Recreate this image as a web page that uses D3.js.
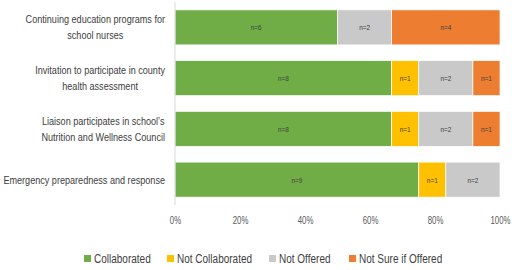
<!DOCTYPE html>
<html>
<head>
<meta charset="utf-8">
<script src="https://cdn.jsdelivr.net/npm/d3@7"></script>
<style>
  body { margin: 0; background: #fff; }
  svg text { font-family: "Liberation Sans", Arial, sans-serif; }
</style>
</head>
<body>
<svg width="515" height="270"></svg>
<script>
var categories = [
    ["Continuing education programs for", "school nurses"],
    ["Invitation to participate in county", "health assessment"],
    ["Liaison participates in school\u2019s", "Nutrition and Wellness Council"],
    ["Emergency preparedness and response"]
];
var seriesNames = ["Collaborated", "Not Collaborated", "Not Offered", "Not Sure if Offered"];
var collaborated = [6, 8, 8, 9];
var notCollaborated = [0, 1, 1, 1];
var notOffered = [2, 2, 2, 2];
var notSure = [4, 1, 1, 0];
var tickValues = [0, 0.2, 0.4, 0.6, 0.8, 1];
var colors = ["#70AD47", "#FFC000", "#C9C9C9", "#ED7D31"];

var svg = d3.select("svg");
var marge = { top: 2, left: 175, right: 15 };
var plotW = 500 - marge.left;
var plotH = 205 - marge.top;

// squeeze text horizontally, the original font is a narrow one (Calibri)
function condense(sel, k) {
    sel.each(function () {
        var w = this.getComputedTextLength();
        d3.select(this).attr("textLength", w * k).attr("lengthAdjust", "spacingAndGlyphs");
    });
}

var rows = categories.map(function (c, i) {
    var vals = [collaborated[i], notCollaborated[i], notOffered[i], notSure[i]];
    var total = d3.sum(vals);
    var acc = 0;
    var segs = vals.map(function (v, k) {
        var s = { key: k, n: v, row: i, x0: acc / total, x1: (acc + v) / total };
        acc += v;
        return s;
    });
    return { idx: i, lines: c, segs: segs };
});

var x = d3.scaleLinear().domain([0, 1]).range([marge.left, marge.left + plotW]);
var y = d3.scaleBand().domain(d3.range(categories.length)).range([marge.top, marge.top + plotH]).paddingInner(0.31).paddingOuter(0.155);

// bars
var g = svg.append("g");
var rowG = g.selectAll("g.row").data(rows).enter().append("g").attr("class", "row");
rowG.selectAll("rect")
    .data(function (d) { return d.segs.filter(function (s) { return s.n > 0; }); })
    .enter().append("rect")
    .attr("x", function (s) { return x(s.x0); })
    .attr("y", function (s) { return y(s.row); })
    .attr("width", function (s) { return x(s.x1) - x(s.x0); })
    .attr("height", y.bandwidth())
    .attr("fill", function (s) { return colors[s.key]; })
    .attr("stroke", "#fff")
    .attr("stroke-width", 0.7);

var vals = rowG.selectAll("text.val")
    .data(function (d) { return d.segs.filter(function (s) { return s.n > 0; }); })
    .enter().append("text")
    .attr("class", "val")
    .attr("x", function (s) { return (x(s.x0) + x(s.x1)) / 2; })
    .attr("y", function (s) { return y(s.row) + y.bandwidth() / 2 + 3; })
    .attr("text-anchor", "middle")
    .style("font-size", "8px")
    .style("fill", "#404040")
    .text(function (s) { return "n=" + s.n; });
condense(vals, 0.8);

// vertical axis line
svg.append("line")
    .attr("x1", marge.left).attr("x2", marge.left)
    .attr("y1", marge.top).attr("y2", marge.top + plotH)
    .attr("stroke", "#D9D9D9").attr("stroke-width", 1);

// x axis tick labels
var xAxis = svg.append("g")
    .attr("transform", "translate(0," + (marge.top + plotH) + ")")
    .call(d3.axisBottom(x).tickValues(tickValues).tickFormat(d3.format(".0%")).tickSize(0).tickPadding(12));
xAxis.select(".domain").remove();
xAxis.selectAll("text").attr("font-family", null).style("font-size", "10px").style("fill", "#595959");
condense(xAxis.selectAll("text"), 0.78);

// category labels: block centered, right edge at 165
var labG = svg.append("g");
rows.forEach(function (d) {
    var n = d.lines.length;
    var cy = y(d.idx) + y.bandwidth() / 2;
    var lines = labG.selectAll(null).data(d.lines).enter().append("text")
        .attr("text-anchor", "middle")
        .attr("y", function (l, j) { return cy + 4 + (j - (n - 1) / 2) * 16; })
        .style("font-size", "11.5px").style("fill", "#404040")
        .text(function (l) { return l; });
    condense(lines, 0.79);
    var maxW = 0;
    lines.each(function () { maxW = Math.max(maxW, +this.getAttribute("textLength")); });
    lines.attr("x", 165 - maxW / 2);
});

// legend
var legendX = [84, 167, 269, 349];
var leg = svg.append("g").selectAll("g").data(seriesNames).enter().append("g")
    .attr("transform", function (d, i) { return "translate(" + legendX[i] + ",255)"; });
leg.append("rect").attr("width", 7).attr("height", 7).attr("fill", function (d, i) { return colors[i]; });
var legText = leg.append("text").attr("x", 10).attr("y", 7.5)
    .style("font-size", "12.5px").style("fill", "#404040")
    .text(function (d) { return d; });
condense(legText, 0.8);
</script>
</body>
</html>
